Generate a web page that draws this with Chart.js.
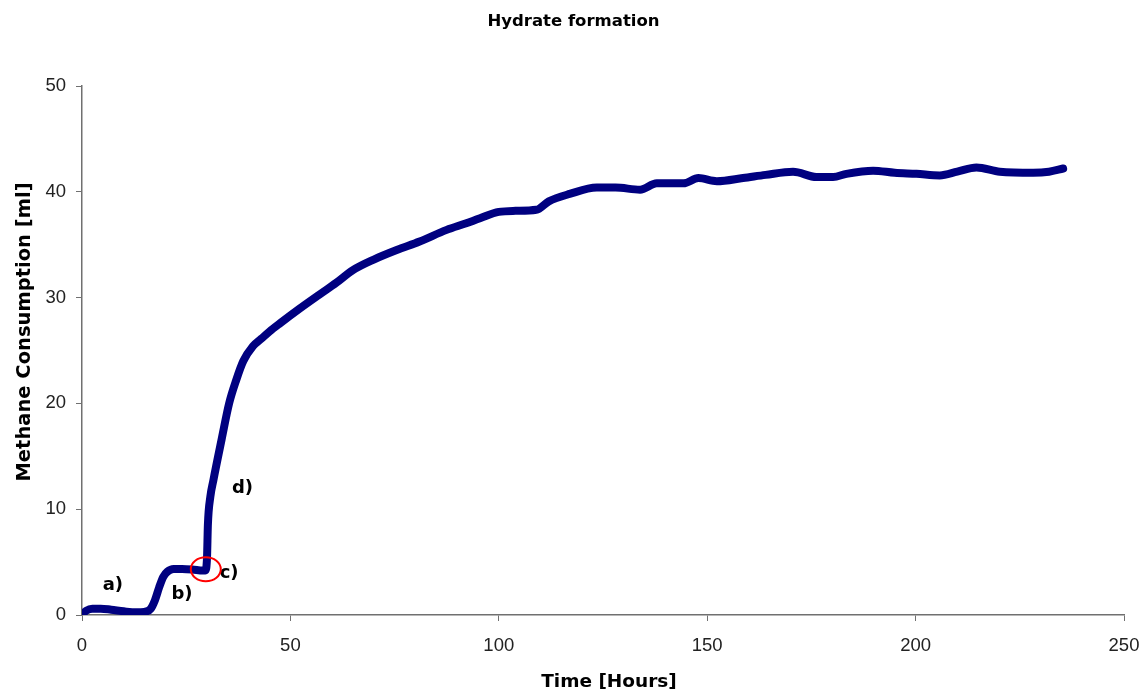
<!DOCTYPE html>
<html>
<head>
<meta charset="utf-8">
<script src="https://cdn.jsdelivr.net/npm/chart.js@4"></script>
<style>
html,body{margin:0;padding:0;background:#fff;}
#wrap{width:1147px;height:690px;position:relative;}
</style>
</head>
<body>
<div id="wrap"><canvas id="c" width="1147" height="690"></canvas></div>
<script>
const timeHours = [0,1,2.5,4.5,7,10,13,15,16.5,17.5,18.5,19.5,20.5,22,24,26.5,29,29.6,30,30.2,30.8,31.5,33.5,35.3,37,38.7,41,43,45,47.6,52,57,61,65,70,75.5,81,87.5,92,95.5,100,104,109,112,117,123.5,128,133.9,137.9,144.3,147.9,152.3,158.6,164,170.6,176.2,180.2,183.4,189.8,195,200.2,205.8,210,214.6,220.2,228.2,232,235.4];
const methaneMl = [0,0.4,0.6,0.6,0.5,0.35,0.25,0.3,0.6,1.4,2.6,3.6,4.1,4.35,4.35,4.3,4.2,4.2,5.5,8.5,11.2,12.7,16.6,20,22.2,24,25.4,26.1,26.8,27.6,28.9,30.3,31.4,32.6,33.6,34.5,35.3,36.4,37,37.5,38.1,38.2,38.3,39.1,39.8,40.4,40.4,40.2,40.8,40.8,41.3,41.0,41.3,41.6,41.9,41.4,41.4,41.7,42.0,41.8,41.7,41.55,41.9,42.3,41.9,41.8,41.9,42.2];
const xTicks = [0,50,100,150,200,250];
const yTicks = [0,10,20,30,40,50];
const chartTitle = 'Hydrate formation';
const xTitle = 'Time [Hours]';
const yTitle = 'Methane Consumption [ml]';
const annotations = [
  {text:'a)', x:7.4, y:2.8},
  {text:'b)', x:24.0, y:2.0},
  {text:'c)', x:35.3, y:3.95},
  {text:'d)', x:38.5, y:12.0}
];
const circleAt = {x:29.7, y:4.32};

const points = timeHours.map((t,i)=>({x:t, y:methaneMl[i]}));
const boldFont = px => 'bold ' + px + 'px "DejaVu Sans", Verdana, sans-serif';

const annoPlugin = {
  id:'anno',
  afterDraw(chart){
    const {ctx, scales:{x, y}, chartArea} = chart;
    ctx.save();
    ctx.fillStyle = '#000';
    ctx.textAlign = 'center';
    ctx.textBaseline = 'middle';
    ctx.font = boldFont(16.5);
    ctx.fillText(chartTitle, chart.width/2, 22);
    ctx.font = boldFont(18.5);
    ctx.fillText(xTitle, (chartArea.left + chartArea.right)/2 + 6, 682);
    ctx.save();
    ctx.translate(25, 332);
    ctx.rotate(-Math.PI/2);
    ctx.font = boldFont(19.5);
    ctx.fillText(yTitle, 0, 0);
    ctx.restore();
    ctx.font = boldFont(18);
    annotations.forEach(a=>ctx.fillText(a.text, x.getPixelForValue(a.x), y.getPixelForValue(a.y)));
    ctx.strokeStyle = '#ff0000';
    ctx.lineWidth = 2;
    ctx.beginPath();
    ctx.ellipse(x.getPixelForValue(circleAt.x), y.getPixelForValue(circleAt.y), 15, 12, 0, 0, Math.PI*2);
    ctx.stroke();
    ctx.restore();
  }
};

const tickFont = {family:'"Liberation Sans", Arial, sans-serif', size:18.5};

new Chart(document.getElementById('c'), {
  type:'scatter',
  data:{datasets:[{
    data:points,
    showLine:true,
    borderColor:'#000080',
    backgroundColor:'#000080',
    borderWidth:8,
    pointRadius:0,
    cubicInterpolationMode:'monotone',
    borderCapStyle:'round',
    borderJoinStyle:'round'
  }]},
  options:{
    responsive:false,
    animation:false,
    layout:{padding:{left:0,right:23,top:86,bottom:0}},
    plugins:{
      legend:{display:false},
      tooltip:{enabled:false},
      title:{display:false}
    },
    scales:{
      x:{
        type:'linear', min:0, max:250,
        afterBuildTicks(s){ s.ticks = xTicks.map(v=>({value:v})); },
        afterFit(s){ s.height = 75; s.paddingLeft = 0; s.paddingRight = 0; },
        ticks:{color:'#222', font:tickFont, padding:14, maxRotation:0},
        grid:{drawOnChartArea:false, drawTicks:true, tickLength:6, color:'#707070'},
        border:{display:true, color:'#707070', width:1.5}
      },
      y:{
        type:'linear', min:0, max:50,
        afterBuildTicks(s){ s.ticks = yTicks.map(v=>({value:v})); },
        afterFit(s){ s.width = 82; s.paddingTop = 0; s.paddingBottom = 0; },
        ticks:{color:'#222', font:tickFont, padding:10},
        grid:{drawOnChartArea:false, drawTicks:true, tickLength:6, color:'#707070'},
        border:{display:true, color:'#707070', width:1.5}
      }
    }
  },
  plugins:[annoPlugin]
});
</script>
</body>
</html>
